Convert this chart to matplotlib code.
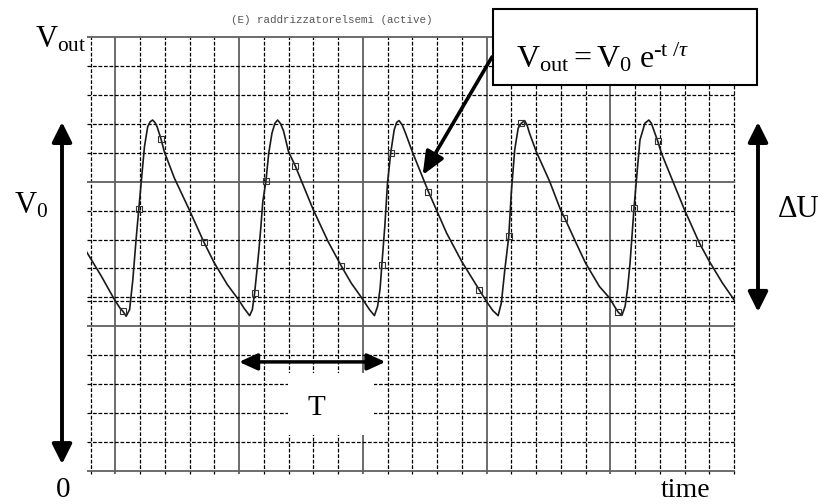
import matplotlib
matplotlib.use("Agg")
import matplotlib.pyplot as plt
from matplotlib.patches import Rectangle

plt.rcParams['mathtext.fontset'] = 'custom'
plt.rcParams['mathtext.rm'] = 'Liberation Serif'
plt.rcParams['mathtext.it'] = 'Liberation Serif:italic'
plt.rcParams['mathtext.bf'] = 'Liberation Serif:bold'

# ---- data (x: minor divisions, y: minor divisions) ----
curve_t = [-0.17, 0.44, 0.97, 1.2, 1.31, 1.44, 1.58, 1.71, 1.84, 1.95, 2.07, 2.18, 2.31, 2.41, 2.51, 2.60, 2.69,
           2.85, 2.98, 3.39, 3.99, 4.57, 4.99, 5.53, 6.0, 6.2, 6.43, 6.54, 6.63, 6.72, 6.8, 6.88, 6.96,
           7.09, 7.2, 7.33, 7.45, 7.56, 7.68, 7.8, 8.0, 8.27, 9.0, 9.6, 10.13, 10.53, 10.96, 11.27, 11.47,
           11.6, 11.7, 11.77, 11.89, 12.0, 12.13, 12.27, 12.37, 12.47, 12.6, 12.73, 13.0, 13.65, 14.39,
           15.0, 15.7, 16.0, 16.25, 16.47, 16.6, 16.74, 16.9, 17.0, 17.14, 17.28, 17.41, 17.54, 17.64,
           17.74, 18.01, 18.55, 18.99, 19.15, 19.62, 20.0, 20.56, 20.97, 21.2, 21.33, 21.47, 21.6, 21.7,
           21.8, 21.96, 22.07, 22.2, 22.4, 22.56, 22.66, 22.73, 22.91, 23.07, 23.53, 24.0, 24.6, 25.0,
           25.53, 26.0]
curve_v = [7.59, 6.73, 5.92, 5.62, 5.52, 5.35, 5.58, 6.61, 7.99, 9.05, 10.18, 11.21, 11.90, 12.07, 12.13, 12.05, 11.90,
           11.47, 11.04, 10.12, 9.03, 7.93, 7.21, 6.44, 5.90, 5.63, 5.37, 5.58, 6.15, 6.90, 7.60, 8.40, 9.30,
           10.04, 10.98, 11.67, 12.02, 12.13, 12.00, 11.75, 11.04, 10.55, 9.03, 7.93, 7.09, 6.50, 5.98, 5.58, 5.37,
           5.69, 6.30, 7.11, 8.45, 9.95, 11.00, 11.79, 12.05, 12.11, 11.95, 11.67, 11.04, 9.66, 8.22,
           7.24, 6.27, 5.86, 5.55, 5.37, 5.81, 6.96, 8.11, 9.60, 11.10, 11.85, 12.02, 12.11, 11.95,
           11.67, 11.04, 10.01, 9.03, 8.76, 7.88, 7.19, 6.38, 5.98, 5.65, 5.48, 5.38, 5.69, 6.30,
           7.19, 9.09, 10.18, 11.44, 12.02, 12.13, 12.02, 11.85, 11.42, 10.98, 10.01, 9.03, 7.88, 7.25,
           6.50, 5.92]

marker_t = [1.31, 1.95, 2.85, 4.57, 6.63, 7.09, 8.27, 10.13, 11.77, 12.13, 13.65,
            15.7, 16.9, 17.41, 19.15, 21.33, 21.96, 22.91, 24.6]
marker_v = [5.52, 9.05, 11.47, 7.93, 6.15, 10.04, 10.55, 7.09, 7.11, 11.0, 9.66,
            6.27, 8.11, 12.02, 8.76, 5.48, 9.09, 11.42, 7.88]

grid_x = list(range(0, 27))
grid_y = list(range(0, 16))
major_x = [1, 6, 11, 16, 21]
major_y = [0, 5, 10, 15]
cursor_y = [5.88]

title = "(E) raddrizzatorelsemi (active)"

W, H = 818, 504
fig = plt.figure(figsize=(W / 100, H / 100), dpi=100)
ax = fig.add_axes([86.8 / W, 1 - 471 / H, (734.5 - 86.8) / W, (471 - 37) / H])
ax.set_xlim(-0.15, 26.02)
ax.set_ylim(0, 15)
ax.axis('off')

dash = (0, (3, 1.4))
for gx in grid_x:
    if gx in major_x:
        ax.vlines(gx, -0.12, 15, colors='#606060', lw=1.3, clip_on=False, zorder=1)
    else:
        ax.vlines(gx, -0.12, 15, colors='black', lw=0.9, linestyles=dash, clip_on=False, zorder=1)
for gy in grid_y:
    if gy in major_y:
        ax.hlines(gy, -0.15, 26.02, colors='#606060', lw=1.3, clip_on=False, zorder=1)
    else:
        ax.hlines(gy, -0.15, 26.02, colors='black', lw=0.9, linestyles=dash, clip_on=False, zorder=1)
for cy in cursor_y:
    ax.hlines(cy, -0.15, 26.02, colors='black', lw=0.9, linestyles=dash, zorder=1)

ax.plot(curve_t, curve_v, color='#1a1a1a', lw=1.2, zorder=3)
ax.plot(marker_t, marker_v, ls='none', marker='s', ms=4, mfc='none', mec='#333333', mew=0.8, zorder=4)

# T annotation with white box
ax.add_patch(Rectangle((7.96, 1.24), 11.44 - 7.96, 3.39 - 1.24, facecolor='white', edgecolor='none', zorder=2))
ax.annotate('', xy=(6.0, 3.77), xytext=(11.92, 3.77),
            arrowprops=dict(arrowstyle='<|-|>,head_length=0.55,head_width=0.25', lw=2.5, color='black',
                            mutation_scale=20, shrinkA=0, shrinkB=0), zorder=5)
ax.text(9.13, 1.95, 'T', fontsize=21, family='Liberation Serif', ha='center', va='baseline', zorder=5)

# vertical arrows (x in figure pixels, y in data)
ax.annotate('', xy=(62, 12.06), xytext=(62, 0.24), xycoords=('figure pixels', 'data'),
            textcoords=('figure pixels', 'data'), annotation_clip=False,
            arrowprops=dict(arrowstyle='<|-|>,head_length=0.6,head_width=0.3', lw=2.8, color='black',
                            mutation_scale=20, shrinkA=0, shrinkB=0))
ax.annotate('', xy=(758, 12.06), xytext=(758, 5.50), xycoords=('figure pixels', 'data'),
            textcoords=('figure pixels', 'data'), annotation_clip=False,
            arrowprops=dict(arrowstyle='<|-|>,head_length=0.6,head_width=0.3', lw=2.8, color='black',
                            mutation_scale=20, shrinkA=0, shrinkB=0))

# equation box + arrow
fig.patches.append(Rectangle((493, H - 85), 757 - 493, 85 - 9, transform=None,
                             facecolor='white', edgecolor='black', lw=1.5, zorder=5))
ax.annotate('', xy=(13.42, 10.23), xycoords='data', xytext=(492, H - 57), textcoords='figure pixels',
            annotation_clip=False,
            arrowprops=dict(arrowstyle='-|>,head_length=0.7,head_width=0.3', lw=2.6, color='black',
                            mutation_scale=20, shrinkA=0, shrinkB=0), zorder=6)
fig.text(516 / W, 1 - 68 / H, r'$\mathrm{V}_{\mathrm{out}} = \mathrm{V}_{0}\ \mathrm{e}^{\mathrm{‐t}\ /\tau}$',
         fontsize=23, ha='left', va='baseline', zorder=7)

# labels
serif = 'Liberation Serif'
fig.text(35 / W, 1 - 47 / H, r'$\mathrm{V}_{\mathrm{out}}$', fontsize=22, ha='left', va='baseline')
fig.text(14 / W, 1 - 213 / H, r'$\mathrm{V}_{0}$', fontsize=22, ha='left', va='baseline')
fig.text(63 / W, 1 - 497 / H, '0', fontsize=21, family=serif, ha='center', va='baseline')
fig.text(686 / W, 1 - 497 / H, 'time', fontsize=20, family=serif, ha='center', va='baseline')
fig.text(778 / W, 1 - 217 / H, 'ΔU', fontsize=22, family=serif, ha='left', va='baseline')
fig.text(332 / W, 1 - 20 / H, title, fontsize=7.8, family='Liberation Mono', color='#555555',
         ha='center', va='center')

fig.savefig('out.png', dpi=100)
